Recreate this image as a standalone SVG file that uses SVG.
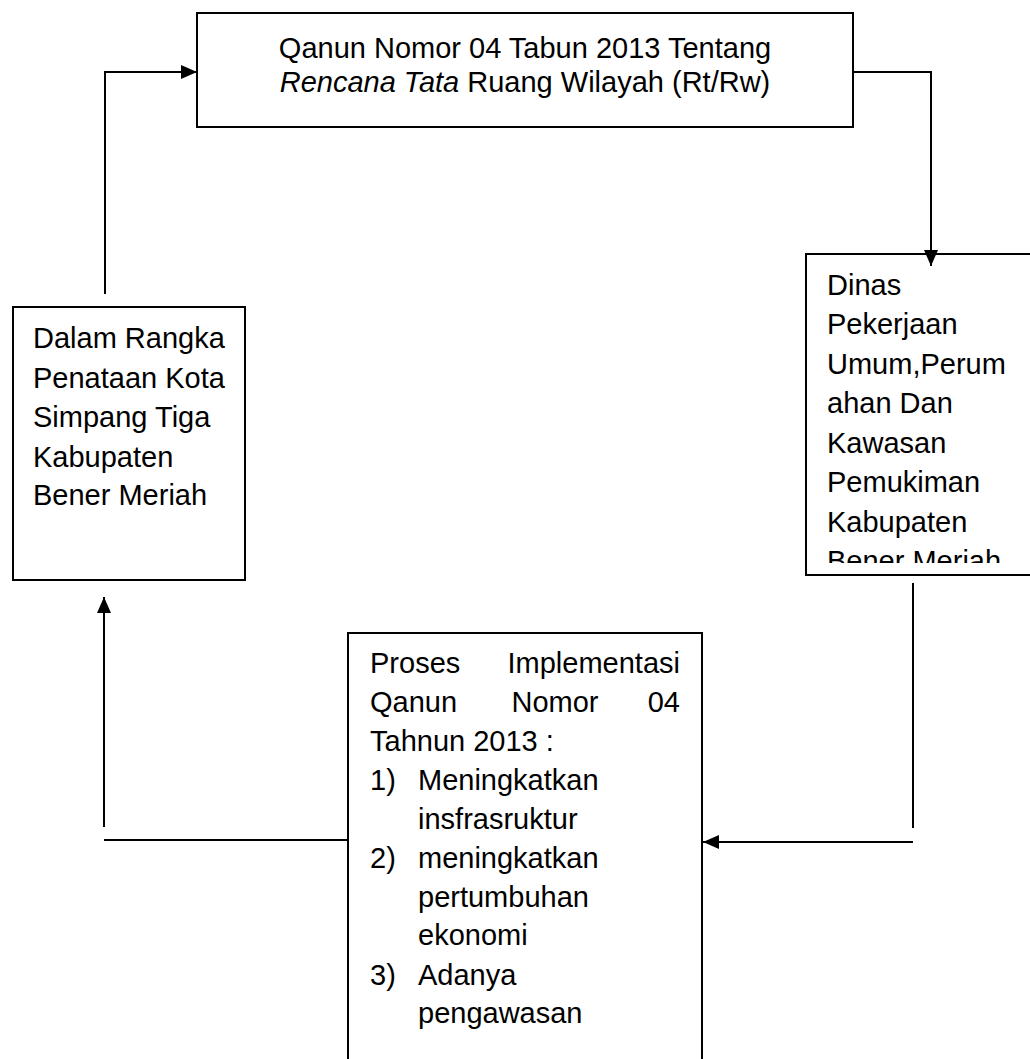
<svg xmlns="http://www.w3.org/2000/svg" width="1030" height="1059" viewBox="0 0 1030 1059">
<style>
.box{fill:#fff;stroke:#000;stroke-width:2}
.t{font-family:"Liberation Sans",Arial,sans-serif;font-size:29px;fill:#000}
.ln{fill:none;stroke:#000;stroke-width:2}
</style>
<defs>
<marker id="ah" markerWidth="16" markerHeight="14" refX="16" refY="7" orient="auto" markerUnits="userSpaceOnUse" viewBox="0 0 16 14">
<path d="M0,0 L16,7 L0,14 Z" fill="#000"/>
</marker>
<clipPath id="rc"><rect x="806" y="254" width="230" height="309"/></clipPath>
</defs>
<rect width="1030" height="1059" fill="#fff"/>
<g id="node-qanun">
<rect class="box" x="197" y="13" width="656" height="114"/>
<text class="t" x="525" y="58" text-anchor="middle">Qanun Nomor 04 Tabun 2013 Tentang</text>
<text class="t" x="525" y="92" text-anchor="middle"><tspan font-style="italic">Rencana Tata</tspan> Ruang Wilayah (Rt/Rw)</text>
</g>
<g id="node-dinas">
<rect class="box" x="806" y="254" width="240" height="321"/>
<g clip-path="url(#rc)">
<text class="t" x="827" y="295">Dinas</text>
<text class="t" x="827" y="334">Pekerjaan</text>
<text class="t" x="827" y="374">Umum,Perum</text>
<text class="t" x="827" y="413">ahan Dan</text>
<text class="t" x="827" y="453">Kawasan</text>
<text class="t" x="827" y="492">Pemukiman</text>
<text class="t" x="827" y="532">Kabupaten</text>
<text class="t" x="827" y="571">Bener Meriah</text>
</g>
</g>
<g id="node-dalam">
<rect class="box" x="13" y="307" width="232" height="273"/>
<text class="t" x="33" y="348">Dalam Rangka</text>
<text class="t" x="33" y="388">Penataan Kota</text>
<text class="t" x="33" y="427">Simpang Tiga</text>
<text class="t" x="33" y="467">Kabupaten</text>
<text class="t" x="33" y="505">Bener Meriah</text>
</g>
<g id="node-proses">
<path class="box" d="M348,1062 L348,633 L702,633 L702,1062"/>
<text class="t" x="370" y="673">Proses</text>
<text class="t" x="680" y="673" text-anchor="end">Implementasi</text>
<text class="t" x="370" y="712">Qanun</text>
<text class="t" x="555" y="712" text-anchor="middle">Nomor</text>
<text class="t" x="680" y="712" text-anchor="end">04</text>
<text class="t" x="370" y="751">Tahnun 2013 :</text>
<text class="t" x="370" y="790">1)</text>
<text class="t" x="418" y="790">Meningkatkan</text>
<text class="t" x="418" y="829">insfrasruktur</text>
<text class="t" x="370" y="868">2)</text>
<text class="t" x="418" y="868">meningkatkan</text>
<text class="t" x="418" y="907">pertumbuhan</text>
<text class="t" x="418" y="945">ekonomi</text>
<text class="t" x="370" y="985">3)</text>
<text class="t" x="418" y="985">Adanya</text>
<text class="t" x="418" y="1023">pengawasan</text>
</g>
<g id="connectors">
<polyline class="ln" points="105,294 105,72 197,72" marker-end="url(#ah)"/>
<polyline class="ln" points="853,72 931,72 931,266" marker-end="url(#ah)"/>
<line class="ln" x1="913" y1="583" x2="913" y2="828"/>
<line class="ln" x1="913" y1="842" x2="703" y2="842" marker-end="url(#ah)"/>
<line class="ln" x1="348" y1="840" x2="104" y2="840"/>
<line class="ln" x1="104" y1="827" x2="104" y2="597" marker-end="url(#ah)"/>
</g>
</svg>
